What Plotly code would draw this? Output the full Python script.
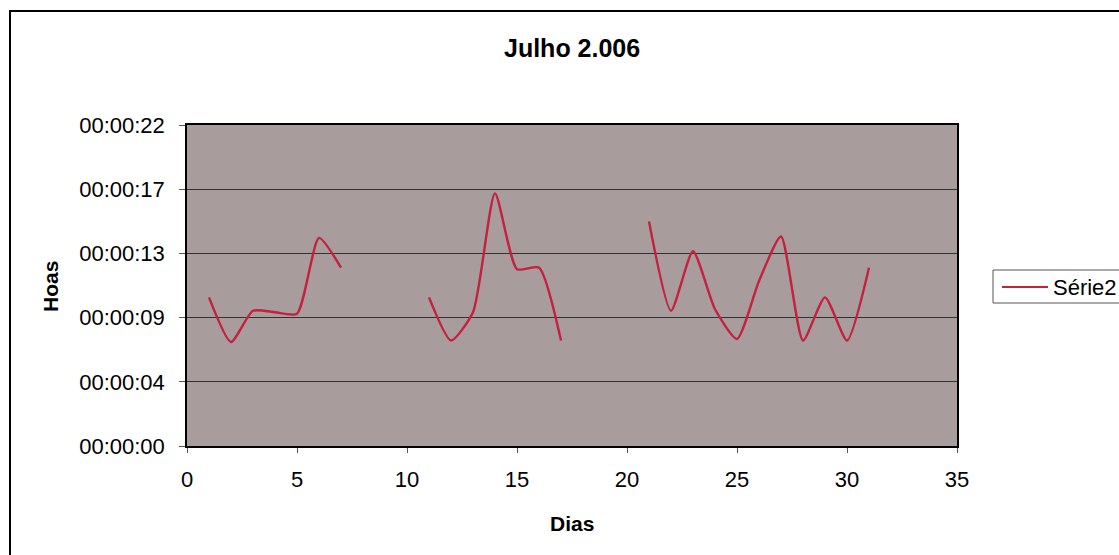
import plotly.graph_objects as go

days = [1, 2, 3, 4, 5, 6, 7, 8,
        11, 12, 13, 14, 15, 16, 17, 18,
        21, 22, 23, 24, 25, 26, 27, 28, 29, 30, 31]
seconds = [10.0, 7.0, 9.1, 9.0, 8.9, 14.0, 12.0, None,
           10.0, 7.1, 9.0, 17.0, 11.9, 12.0, 7.1, None,
           15.1, 9.1, 13.1, 9.2, 7.2, 11.1, 14.1, 7.1, 10.0, 7.1, 12.0]
x_vals = [d if s is not None else None for d, s in zip(days, seconds)]
series_name = "Série2"

y_tickvals = [0, 4.32, 8.64, 12.96, 17.28, 21.6]
y_ticktext = ["00:00:00", "00:00:04", "00:00:09", "00:00:13", "00:00:17", "00:00:22"]
x_tickvals = [0, 5, 10, 15, 20, 25, 30, 35]

W, H = 1119, 555
L, R, T, B = 187, 957, 125, 446
LINE_COLOR = "#c4213c"

def px(x):
    return (x - L) / (R - L)

def py(y):
    return (B - y) / (B - T)

fig = go.Figure()
fig.add_trace(go.Scatter(
    x=x_vals, y=seconds, mode="lines", name=series_name,
    line=dict(color=LINE_COLOR, width=2.4, shape="spline", smoothing=0.6),
    connectgaps=False,
))

font = "Liberation Sans, Arial, sans-serif"
fig.update_layout(
    width=W, height=H,
    margin=dict(l=L, r=W - R, t=T, b=H - B, autoexpand=False),
    paper_bgcolor="white",
    plot_bgcolor="#a99c9c",
    font=dict(family=font, size=22, color="black"),
    showlegend=False,
    xaxis=dict(
        range=[0, 35], tickvals=x_tickvals, showgrid=False, zeroline=False,
        ticks="outside", ticklen=5, tickcolor="#555", showline=True,
        linecolor="black", linewidth=1.5, mirror=True,
        tickfont=dict(size=22), ticklabelstandoff=8,
    ),
    yaxis=dict(
        range=[0, 21.6], tickvals=y_tickvals, ticktext=y_ticktext,
        showgrid=True, gridcolor="#333333", gridwidth=1, zeroline=False,
        ticks="outside", ticklen=6, tickcolor="#555", showline=True,
        linecolor="black", linewidth=1.5, mirror=True,
        tickfont=dict(size=22), ticklabelstandoff=10,
    ),
    annotations=[
        dict(text="<b>Julho 2.006</b>", x=px(572), y=py(48),
             xref="paper", yref="paper", showarrow=False,
             xanchor="center", yanchor="middle", font=dict(size=25)),
        dict(text="<b>Dias</b>", x=px(572), y=py(523),
             xref="paper", yref="paper", showarrow=False,
             xanchor="center", yanchor="middle", font=dict(size=21)),
        dict(text="<b>Hoas</b>", x=px(50), y=py(287),
             xref="paper", yref="paper", showarrow=False, textangle=-90,
             xanchor="center", yanchor="middle", font=dict(size=21)),
        dict(text=series_name, x=px(1051), y=py(287),
             xref="paper", yref="paper", showarrow=False,
             xanchor="left", yanchor="middle", font=dict(size=22)),
    ],
    shapes=[
        dict(type="rect", xref="paper", yref="paper",
             x0=px(10), x1=px(1135), y0=py(575), y1=py(11),
             line=dict(color="black", width=2), fillcolor="rgba(0,0,0,0)", layer="below"),
        dict(type="rect", xref="paper", yref="paper",
             x0=px(993), x1=px(1140), y0=py(303), y1=py(270),
             line=dict(color="#555", width=1), fillcolor="white", layer="below"),
        dict(type="line", xref="paper", yref="paper",
             x0=px(1002), x1=px(1048), y0=py(287), y1=py(287),
             line=dict(color=LINE_COLOR, width=2)),
    ],
)

fig.write_html("out.html")
